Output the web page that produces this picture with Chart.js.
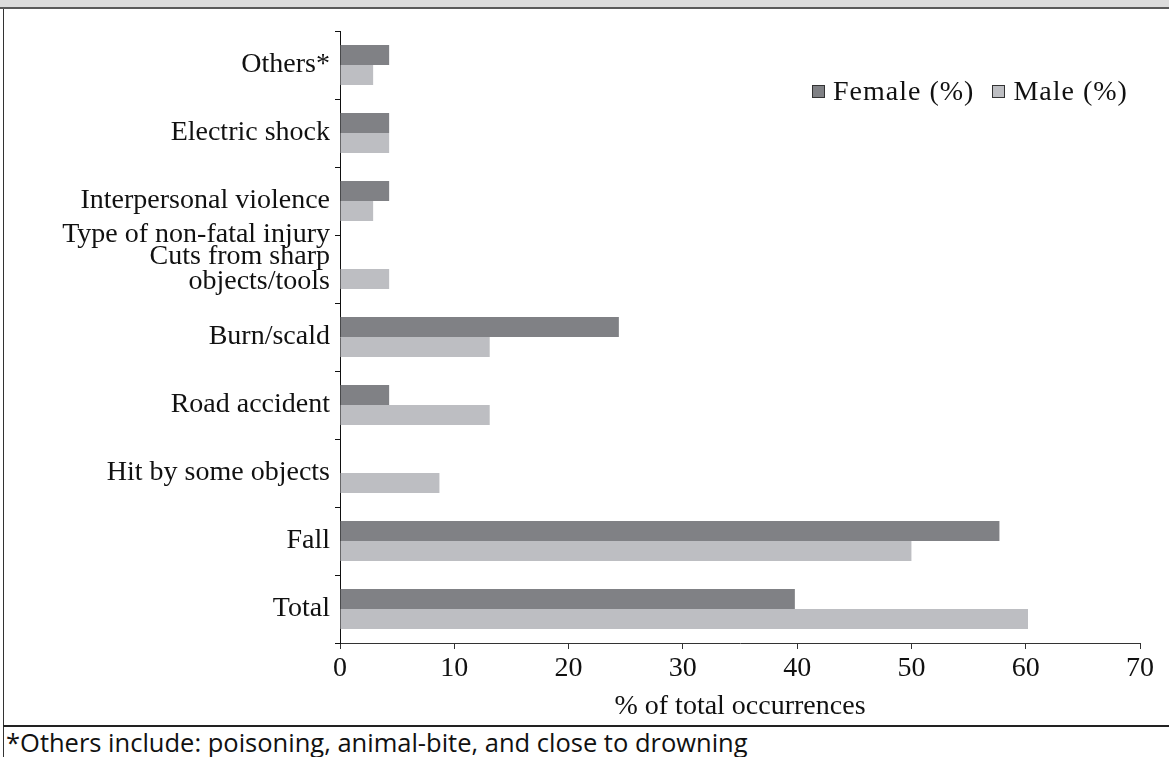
<!DOCTYPE html>
<html>
<head>
<meta charset="utf-8">
<script src="https://cdn.jsdelivr.net/npm/chart.js@4/dist/chart.umd.min.js"></script>
<style>
  body { margin: 0; background: #fff; font-family: "Liberation Serif", serif; }
  #page { position: relative; width: 1169px; height: 757px; overflow: hidden; }
  #band { position: absolute; left: 0; top: 0; width: 1169px; height: 7px; background: #dcdcdc; border-bottom: 2px solid #5a5a5a; }
  #leftline { position: absolute; left: 3px; top: 9px; width: 1px; height: 748px; background: #333; }
  #bottomline { position: absolute; left: 3px; top: 725px; width: 1166px; height: 2px; background: #222; }
  #wrap { position: absolute; left: 4px; top: 10px; width: 1162px; height: 715px; }
  #note { position: absolute; left: 6px; top: 725px; font-family: "Open Sans", sans-serif; font-size: 25.5px; color: #111; white-space: nowrap; }
  #legend { position: absolute; left: 812px; top: 75px; font-size: 28px; letter-spacing: 1px; color: #111; white-space: nowrap; }
  #legend span.box { display: inline-block; width: 11px; height: 11px; border: 1px solid #333; margin-right: 8px; vertical-align: 2px; }
  #legend span.item { margin-right: 18px; }
</style>
</head>
<body>
<div id="page">
  <div id="band"></div>
  <div id="leftline"></div>
  <div id="wrap"><canvas id="chart"></canvas></div>
  <div id="legend"></div>
  <div id="bottomline"></div>
  <div id="note">*Others include: poisoning, animal-bite, and close to drowning</div>
</div>
<script>
// Injury types, top to bottom
const categories = [
  'Others*',
  'Electric shock',
  'Interpersonal violence',
  ['Cuts from sharp', 'objects/tools'],
  'Burn/scald',
  'Road accident',
  'Hit by some objects',
  'Fall',
  'Total'
];
const female = [4.3, 4.3, 4.3, 0, 24.4, 4.3, 0, 57.7, 39.8];
const male = [2.9, 4.3, 2.9, 4.3, 13.1, 13.1, 8.7, 50.0, 60.2];
const seriesNames = ['Female (%)', 'Male (%)'];
const seriesColors = ['#808185', '#bdbec2'];
const xTicks = [0, 10, 20, 30, 40, 50, 60, 70];
const yTitle = 'Type of non-fatal injury';
const xTitle = '% of total occurrences';

const font = { family: '"Liberation Serif", serif', size: 28, lineHeight: 0.9 };

// Legend (drawn as html, sits inside the plot area at the top right)
const legend = document.getElementById('legend');
seriesNames.forEach((name, i) => {
  legend.innerHTML += `<span class="item"><span class="box" style="background:${seriesColors[i]}"></span>${name}</span>`;
});

// The y title sits flat on the boundary between Interpersonal violence and Cuts
const yTitlePlugin = {
  id: 'yTitle',
  afterDraw(chart) {
    const y = chart.scales.y;
    const ctx = chart.ctx;
    const pos = (y.getPixelForTick(2) + y.getPixelForTick(3)) / 2;
    ctx.save();
    ctx.font = '28px "Liberation Serif", serif';
    ctx.fillStyle = '#111';
    ctx.textAlign = 'right';
    ctx.textBaseline = 'middle';
    ctx.fillText(yTitle, y.right - 10, pos);
    ctx.restore();
  }
};

const ctx = document.getElementById('chart').getContext('2d');
const chart = new Chart(ctx, {
  type: 'bar',
  data: {
    labels: categories,
    datasets: [
      { label: seriesNames[0], data: female, backgroundColor: seriesColors[0] },
      { label: seriesNames[1], data: male, backgroundColor: seriesColors[1] }
    ]
  },
  options: {
    indexAxis: 'y',
    responsive: true,
    maintainAspectRatio: false,
    animation: false,
    categoryPercentage: 0.59,
    barPercentage: 1.0,
    layout: { padding: { left: 0, right: 26, top: 21, bottom: 0 } },
    plugins: {
      legend: { display: false },
      tooltip: { enabled: false }
    },
    scales: {
      x: {
        min: 0,
        max: 70,
        afterBuildTicks: (scale) => { scale.ticks = xTicks.map(v => ({ value: v })); },
        afterFit: (scale) => { scale.height = 82; },
        grid: { drawOnChartArea: false, drawTicks: true, tickLength: 6, color: '#333' },
        border: { display: true, color: '#333', width: 1 },
        ticks: { color: '#111', font: { family: font.family, size: 28, lineHeight: 1.0 }, padding: 6, maxRotation: 0 },
        title: { display: true, text: xTitle, color: '#111', font: { family: font.family, size: 28, lineHeight: 1.2 }, padding: { top: 0, bottom: 2 } }
      },
      y: {
        afterFit: (scale) => { scale.width = 336; },
        grid: { drawOnChartArea: false, drawTicks: true, tickLength: 5, color: '#111', offset: true },
        border: { display: true, color: '#111', width: 1 },
        ticks: { color: '#111', font: font, padding: 5, autoSkip: false }
      }
    }
  },
  plugins: [yTitlePlugin]
});
</script>
</body>
</html>
